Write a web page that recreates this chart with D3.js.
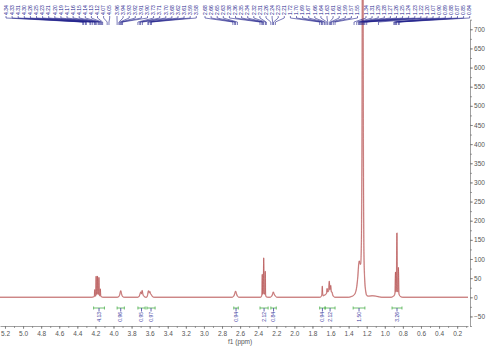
<!DOCTYPE html>
<html>
<head>
<meta charset="utf-8">
<script src="https://cdn.jsdelivr.net/npm/d3@7"></script>
<style>
  body { margin: 0; background: #fff; }
  svg { display: block; font-family: "Liberation Sans", Arial, sans-serif; }
</style>
</head>
<body>
<svg id="chart"></svg>
<script>
// Size of the picture
const W = 494, H = 346;

// Spectrum: [ppm, intensity]
const spectrum = [
  [5.255, 0], [4.24, 0], [4.225, 1], [4.212, 2], [4.207, 20], [4.203, 3], [4.197, 4], [4.192, 55],
  [4.188, 8], [4.182, 8], [4.177, 55], [4.172, 9], [4.166, 8], [4.161, 52], [4.156, 6], [4.150, 4],
  [4.146, 22], [4.141, 3], [4.13, 1], [4.115, 0],
  [3.96, 0], [3.94, 2], [3.93, 8], [3.92, 17], [3.91, 8], [3.90, 2], [3.88, 0],
  [3.73, 0], [3.715, 3], [3.705, 10], [3.698, 14], [3.69, 9], [3.683, 18], [3.675, 8], [3.66, 2], [3.645, 0],
  [3.635, 0], [3.625, 4], [3.613, 17], [3.605, 12], [3.598, 15], [3.59, 9], [3.582, 7], [3.57, 2], [3.55, 0],
  [2.69, 0], [2.67, 3], [2.66, 9], [2.65, 16], [2.64, 9], [2.63, 3], [2.61, 0],
  [2.375, 0], [2.365, 2], [2.359, 8], [2.355, 60], [2.351, 8], [2.344, 11], [2.339, 103], [2.334, 11],
  [2.327, 8], [2.322, 68], [2.318, 6], [2.31, 1], [2.29, 0],
  [2.27, 0], [2.25, 3], [2.24, 9], [2.233, 14], [2.225, 9], [2.21, 3], [2.19, 0],
  [1.72, 0], [1.70, 3], [1.695, 9], [1.691, 29], [1.687, 9], [1.68, 4], [1.67, 5], [1.645, 10],
  [1.638, 23], [1.632, 14], [1.622, 16], [1.614, 42], [1.607, 20], [1.598, 31], [1.591, 14],
  [1.584, 14], [1.578, 8], [1.57, 3], [1.55, 0],
  [1.40, 0], [1.37, 2], [1.345, 5], [1.325, 12], [1.31, 28], [1.298, 55], [1.288, 88], [1.282, 95],
  [1.274, 88], [1.266, 86], [1.258, 160], [1.252, 420], [1.247, 1000], [1.242, 1000], [1.237, 400],
  [1.231, 120], [1.222, 45], [1.21, 14], [1.20, 5], [1.18, 3], [1.14, 4], [1.10, 3], [1.06, 1], [1.03, 0],
  [0.93, 0], [0.91, 2], [0.895, 5], [0.887, 12], [0.882, 66], [0.877, 14], [0.872, 20], [0.866, 168],
  [0.861, 18], [0.855, 14], [0.849, 78], [0.844, 10], [0.835, 4], [0.82, 1], [0.80, 0], [0.08, 0]
];

// Integration regions (ppm) and their values
const integralStart = [4.22, 3.96, 3.73, 3.63, 2.67, 2.38, 2.26, 1.72, 1.66, 1.35, 0.92];
const integralEnd   = [4.10, 3.88, 3.65, 3.54, 2.62, 2.29, 2.20, 1.66, 1.55, 1.22, 0.81];
const integralValues = ["4.13", "0.96", "0.95", "0.97", "0.94", "2.12", "0.84", "0.94", "2.12", "1.50", "3.26"];

// Peak picking labels, one list per crowd of labels
const peakGroup1 = ["4.34", "4.33", "4.31", "4.30", "4.26", "4.25", "4.23", "4.21", "4.20", "4.19",
                    "4.17", "4.16", "4.15", "4.14", "4.13", "4.12", "4.07", "4.05"];
const peakGroup2 = ["3.96", "3.94", "3.93", "3.92", "3.91", "3.90", "3.73", "3.71", "3.70", "3.68",
                    "3.62", "3.61", "3.59", "3.58"];
const peakGroup3 = ["2.68", "2.66", "2.65", "2.63", "2.38", "2.36", "2.35", "2.34", "2.32", "2.31",
                    "2.26", "2.24", "2.23", "2.21", "1.72", "1.70", "1.69", "1.67", "1.66", "1.64",
                    "1.63", "1.61", "1.60", "1.59", "1.57", "1.55"];
const peakGroup4 = ["1.34", "1.31", "1.29", "1.28", "1.27", "1.26", "1.25", "1.24", "1.23", "1.22",
                    "1.20", "1.07", "0.90", "0.89", "0.88", "0.87", "0.85", "0.84"];

// Axis ticks
const xTicks = d3.range(2, 53, 2).map((v) => v / 10);
const yTicks = d3.range(-50, 701, 50);

const svg = d3.select("#chart")
  .attr("width", W)
  .attr("height", H);

// Scales (ppm runs right to left)
const x = d3.scaleLinear().domain([5.255, 0.08]).range([0, 468]);
const y = d3.scaleLinear().domain([-75, 725]).range([326, 19.7]);

// Spectrum
const line = d3.line()
  .x((d) => x(d[0]))
  .y((d) => y(d[1]))
  .curve(d3.curveMonotoneX);

svg.append("path")
  .datum(spectrum)
  .attr("fill", "none")
  .attr("stroke", "#e6bcbc")
  .attr("stroke-width", 1.4)
  .attr("d", line);

svg.append("path")
  .datum(spectrum)
  .attr("fill", "none")
  .attr("stroke", "#b04a4a")
  .attr("stroke-width", 0.6)
  .attr("d", line);

// X axis
const xAxis = svg.append("g")
  .attr("transform", "translate(0, 326)")
  .call(d3.axisBottom(x).tickValues(xTicks).tickFormat(d3.format(".1f")).tickSize(3).tickSizeOuter(0));
svg.append("g")
  .attr("transform", "translate(0, 326)")
  .call(d3.axisBottom(x).tickValues(d3.range(1, 53).map((v) => v / 10)).tickFormat("").tickSize(2).tickSizeOuter(0))
  .select(".domain").remove();

// Y axis (right)
const yAxis = svg.append("g")
  .attr("transform", "translate(470, 0)")
  .call(d3.axisRight(y).tickValues(yTicks).tickSize(3).tickSizeOuter(0));
svg.append("g")
  .attr("transform", "translate(470, 0)")
  .call(d3.axisRight(y).tickValues(d3.range(-75, 726, 25)).tickFormat("").tickSize(2).tickSizeOuter(0))
  .select(".domain").remove();

svg.selectAll(".tick text")
  .attr("font-size", "6.5px")
  .attr("fill", "#555");
xAxis.selectAll(".tick text").attr("dy", "0.55em");
yAxis.selectAll(".tick text").attr("dx", "-0.3em");
svg.selectAll(".domain, .tick line").attr("stroke", "#777").attr("stroke-width", 0.7);

svg.append("text")
  .attr("x", x(2.6))
  .attr("y", 344)
  .attr("text-anchor", "middle")
  .attr("font-size", "6.5px")
  .attr("fill", "#555")
  .text("f1 (ppm)");

// Integrals
const integrals = integralStart.map((s, i) => ({ s, e: integralEnd[i], v: integralValues[i] }));
const ig = svg.append("g").attr("class", "integrals");
integrals.forEach((d) => {
  const x0 = x(d.s), x1 = x(d.e), cx = (x0 + x1) / 2;
  ig.append("line").attr("x1", x0).attr("x2", x1).attr("y1", 308).attr("y2", 308);
  ig.append("line").attr("x1", x0).attr("x2", x0).attr("y1", 306.5).attr("y2", 309.5);
  ig.append("line").attr("x1", x1).attr("x2", x1).attr("y1", 306.5).attr("y2", 309.5);
  ig.append("line").attr("x1", cx).attr("x2", cx).attr("y1", 308).attr("y2", 311.5)
    .attr("stroke", "#3a3aa0");
  ig.append("text")
    .attr("transform", `translate(${cx}, 312) rotate(-90)`)
    .attr("text-anchor", "end")
    .attr("dy", "0.35em")
    .attr("font-size", "5px")
    .attr("fill", "#3a3aa0")
    .text(d.v);
});
ig.selectAll("line:not([stroke])").attr("stroke", "#4cb04c");
ig.selectAll("line").attr("stroke-width", 0.8);

// Peak labels at the top
const groups = [peakGroup1, peakGroup2, peakGroup3, peakGroup4];
const groupStart = [6, 117, 205, 366];
const step = 6.1;
const pg = svg.append("g").attr("class", "peaks");
groups.forEach((g, gi) => {
  g.forEach((t, i) => {
    const lx = groupStart[gi] + i * step;
    const px = x(+t);
    pg.append("text")
      .attr("transform", `translate(${lx}, 15) rotate(-90)`)
      .attr("text-anchor", "start")
      .attr("dy", "0.35em")
      .attr("font-size", "5px")
      .attr("fill", "#22228c")
      .text(t);
    pg.append("path")
      .attr("d", `M${lx},16 L${lx},18 L${px},22 L${px},25`)
      .attr("fill", "none")
      .attr("stroke", "#22228c")
      .attr("stroke-width", 0.6);
  });
});
</script>
</body>
</html>
